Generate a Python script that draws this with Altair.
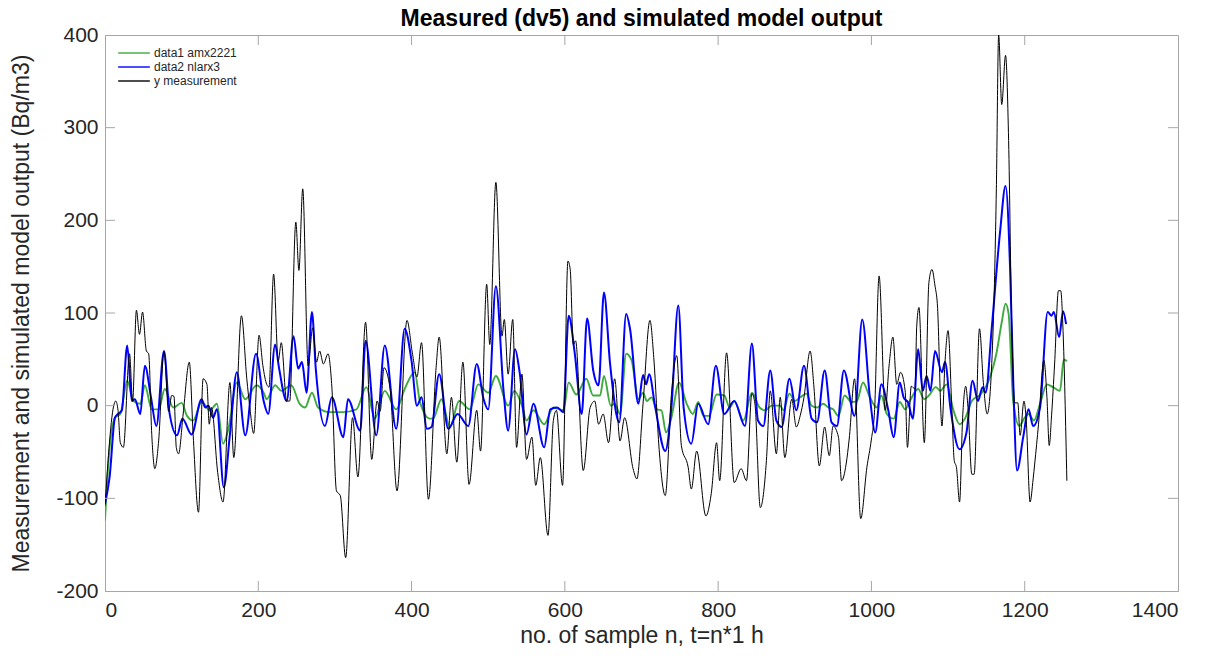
import altair as alt
import pandas as pd

alt.data_transformers.disable_max_rows()

# sample index and value pairs
meas_n = [0, 12, 14, 17, 20, 24, 32, 36, 41, 45, 49, 54, 57, 61, 65, 70, 77, 83, 87, 90,
          93, 96, 102, 110, 115, 122, 128, 133, 136, 139, 147, 154, 163, 168, 178, 185, 189,
          194, 201, 206, 211, 214, 220, 226, 230, 237, 241, 249, 253, 258, 265, 271, 276,
          280, 285, 291, 296, 302, 307, 314, 323, 330, 340, 348, 355, 359, 364, 372, 381,
          394, 401, 407, 413, 422, 432, 436, 446, 452, 459, 467, 475, 485, 490, 498, 502,
          510, 518, 521, 526, 532, 537, 544, 550, 557, 562, 568, 578, 585, 589, 597, 604,
          607, 611, 614, 624, 633, 639, 644, 650, 657, 665, 672, 678, 689, 694, 702, 711,
          716, 723, 731, 739, 746, 752, 761, 765, 772, 784, 791, 798, 802, 811, 821, 830,
          837, 844, 848, 855, 863, 868, 876, 881, 887, 896, 902, 907, 912, 920, 925, 932,
          939, 945, 950, 957, 961, 967, 971, 978, 986, 994, 1000, 1004, 1010, 1018, 1023,
          1028, 1033, 1038, 1044, 1047, 1052, 1057, 1059, 1062, 1069, 1075, 1079, 1083,
          1086, 1092, 1096, 1100, 1105, 1108, 1111, 1115, 1119, 1123, 1126, 1131, 1134,
          1141, 1146, 1151, 1159, 1163, 1166, 1170, 1175, 1179, 1183, 1187, 1191, 1194,
          1199, 1202, 1207, 1211, 1213, 1218, 1225, 1229, 1232, 1235, 1239, 1244, 1247,
          1250, 1255]
meas_y = [-108, 2, 5, -5, -40, -45, 56, 5, 103, 77, 101, 59, 56, -31, -68, -38, 58, -6, 11, 10,
          -45, -52, -9, 47, -31, -115, 29, 23, -20, -2, -72, -104, 25, -56, 97, 29, -2,
          -30, 76, 43, 23, 20, 142, 48, 68, 5, 5, 198, 146, 234, 43, 84, 47,
          59, 45, 56, 20, -92, -97, -164, -13, -77, 90, -58, 5, -6, 41, 18, -92,
          92, 57, 31, 68, -101, 41, 74, -52, 9, -61, 47, -85, -5, -49, 131, 66,
          241, 75, 93, 34, 93, -45, 34, -58, -34, -86, -56, -140, -16, -5, -86, 156,
          147, 66, 70, -70, -2, 5, -20, -9, -40, 29, -38, -13, -68, -79, 2, 92,
          52, -47, -97, 12, 54, -43, -67, -90, -49, -119, -95, -40, -81, 57, -83, -68,
          -81, 13, 2, -110, -59, 16, -52, 9, -56, 7, -23, -11, 9, 59, 20, -65,
          -23, -54, -22, -34, -81, -63, -36, 29, -122, -67, -36, -7, 140, -5, 43,
          74, 23, 36, 16, -45, 21, 18, 84, 106, -40, 133, 147, 129,
          110, -22, 47, 81, -5, -59, -67, -104, -13, 21, -2, -74, -74,
          83, 25, -9, 88, 234, 400, 325, 378, 286, 88, 3, 3, -32,
          5, -16, -104, -79, -63, -20, 49, 9, -43, -11, 45, 124, 124,
          81, -81]

nlarx_n = [0, 6, 13, 17, 22, 29, 35, 39, 46, 52, 60, 67, 77, 84, 94, 101, 113, 126, 131, 135,
           141, 146, 155, 163, 172, 183, 197, 207, 213, 222, 227, 237, 246, 252, 257, 263,
           270, 275, 287, 296, 311, 317, 333, 340, 354, 365, 380, 391, 400, 407, 413, 420,
           426, 436, 448, 460, 474, 485, 494, 500, 510, 520, 526, 535, 541, 550, 559, 573,
           581, 590, 598, 605, 613, 622, 629, 637, 644, 651, 659, 671, 680, 685, 696, 702,
           706, 710, 718, 731, 739, 748, 755, 765, 774, 787, 797, 808, 821, 835, 844, 852,
           859, 868, 876, 883, 893, 902, 912, 922, 929, 939, 948, 955, 964, 978, 988, 998,
           1005, 1013, 1022, 1029, 1037, 1042, 1048, 1054, 1061, 1067, 1072, 1077, 1083,
           1092, 1096, 1103, 1115, 1124, 1132, 1139, 1145, 1149, 1157, 1168, 1175, 1181,
           1185, 1190, 1198, 1205, 1211, 1220, 1230, 1235, 1238, 1245, 1250, 1254]
nlarx_y = [-106, -77, -13, -9, -5, 65, 5, 7, -9, 43, 9, -22, 59, -7, -32, -14, -31, 7, -2, 0,
           -13, -4, -88, -31, 36, -32, 56, 5, -9, 66, 41, 5, 75, 40, 47, 14,
           101, 40, -22, 9, -34, 7, -27, 70, -32, 65, -25, 83, 48, 0, 9, -25,
           -23, 34, -25, -9, -22, 45, 7, -4, 129, 16, -27, 61, 36, -31, 2, -45,
           -4, -2, -7, 97, 56, -9, 94, 38, 22, 122, 45, -18, 99, 83, 2, 33,
           23, 34, -2, -49, -2, 108, -2, -41, 2, -20, 43, -9, 5, -22, 67, -16,
           -22, 38, -16, -23, 29, -5, 43, -14, -18, 38, -18, -22, 38, -11, 93, 9,
           -29, 23, -5, -34, 25, 9, 3, -14, 61, 16, 32, 16, 59,
           36, 47, -2, -47, -29, 27, 5, 20, 14, 84, 189, 237, 146,
           27, -70, -34, -4, -22, -2, 101, 97, 101, 74, 102, 88]

amx_n = [0, 4, 13, 20, 29, 37, 46, 52, 61, 70, 78, 89, 100, 107, 115, 126, 137, 146, 154, 161,
         172, 183, 198, 207, 211, 222, 230, 243, 254, 261, 270, 278, 293, 311, 328, 341,
         352, 365, 380, 391, 404, 411, 424, 428, 439, 450, 462, 476, 487, 500, 510, 526,
         534, 544, 550, 559, 573, 585, 598, 605, 615, 628, 637, 646, 651, 660, 665, 672,
         680, 687, 696, 702, 707, 713, 720, 726, 732, 739, 749, 759, 767, 774, 781, 788,
         798, 808, 815, 821, 833, 844, 854, 861, 870, 881, 885, 893, 900, 907, 915, 922,
         929, 937, 944, 950, 957, 965, 974, 981, 989, 998, 1007, 1013, 1020, 1029, 1037,
         1044, 1050, 1061, 1069, 1075, 1084, 1090, 1098, 1107, 1115, 1122, 1131, 1142,
         1152, 1163, 1170, 1175, 1179, 1185, 1193, 1199, 1205, 1212, 1220, 1229, 1237,
         1246, 1251, 1255]
amx_y = [-124, -66, -13, -9, 27, 5, 2, 22, -4, -4, 18, -2, 3, -11, -16, 4, -5, 2, -41, -25,
         25, 7, 22, 14, 7, 22, 16, 22, 2, -2, 14, -2, -7, -7, -4, 20,
         -14, 16, -4, 18, 36, 4, -14, -14, 7, -23, 5, -4, 23, 14, 32, 0,
         16, 0, -16, -5, -20, -2, -5, 25, 12, 29, 11, 11, 32, 0, 2, -9,
         56, 49, 7, 14, 5, 9, -4, -5, -29, -13, 25, 2, -9, 4, -11, -11,
         12, 11, -2, 5, -16, 14, -2, -5, 0, 0, -5, 13, 5, 9, 13, 0,
         -2, 2, -2, -4, -11, 11, 4, 5, 25, 9, -2, 11, -9, -14, 4,
         -4, 5, 18, 7, 11, 20, 16, 23, -5, -20, -14, 5, 12,
         25, 56, 90, 110, 99, 5, -22, -14, -9, -16, 2, 23, 20,
         16, 50, 48]

series_names = ["data1 amx2221", "data2 nlarx3", "y measurement"]
series_colors = ["#3faa3f", "#0000ff", "#000000"]
series_widths = [1.9, 2.0, 1.0]

x_ticks = [0, 200, 400, 600, 800, 1000, 1200, 1400]
y_ticks = [-200, -100, 0, 100, 200, 300, 400]

W, H = 1073, 556
FRAME = "#a6a6a6"
X_TITLE = "no. of sample n, t=n*1 h"
Y_TITLE = "Measurement and simulated model output (Bq/m3)"

x_scale = alt.Scale(domain=[0, 1400], nice=False)
y_scale = alt.Scale(domain=[-200, 400], nice=False)
x_axis = alt.Axis(values=x_ticks, grid=False, ticks=False, labelExpr="datum.value + ''")
y_axis = alt.Axis(values=y_ticks, grid=False, ticks=False, labelExpr="datum.value + ''")

color = alt.Color(
    "series:N",
    scale=alt.Scale(domain=series_names, range=series_colors),
    legend=alt.Legend(
        title=None,
        orient="none",
        legendX=21,
        legendY=10,
        padding=0,
        symbolType="M-2.3,0H2.3",
        symbolSize=190,
        symbolStrokeWidth=1.4,
        labelFontSize=12,
        labelFont="Liberation Sans",
        labelColor="#262626",
        rowPadding=0,
        labelOffset=12,
    ),
)

layers = []
for name, ns, ys, sw in [(series_names[0], amx_n, amx_y, series_widths[0]),
                         (series_names[1], nlarx_n, nlarx_y, series_widths[1]),
                         (series_names[2], meas_n, meas_y, series_widths[2])]:
    d = pd.DataFrame({"n": ns, "value": ys, "series": name})
    layers.append(
        alt.Chart(d)
        .mark_line(interpolate="monotone", clip=True, strokeWidth=sw)
        .encode(
            x=alt.X("n:Q", title=X_TITLE, scale=x_scale, axis=x_axis),
            y=alt.Y("value:Q", title=Y_TITLE, scale=y_scale, axis=y_axis),
            color=color,
        )
    )

# inward ticks on all four sides, as in the original figure
xt = pd.DataFrame({"n": x_ticks[1:-1]})
yt = pd.DataFrame({"value": y_ticks[1:-1]})
tick_style = dict(color=FRAME, strokeWidth=1)
tx = alt.X("n:Q", title=X_TITLE, scale=x_scale, axis=x_axis)
ty = alt.Y("value:Q", title=Y_TITLE, scale=y_scale, axis=y_axis)
layers += [
    alt.Chart(xt).mark_rule(**tick_style).encode(x=tx, y=alt.value(H), y2=alt.value(H - 10)),
    alt.Chart(xt).mark_rule(**tick_style).encode(x=tx, y=alt.value(0), y2=alt.value(10)),
    alt.Chart(yt).mark_rule(**tick_style).encode(y=ty, x=alt.value(0), x2=alt.value(10)),
    alt.Chart(yt).mark_rule(**tick_style).encode(y=ty, x=alt.value(W), x2=alt.value(W - 10)),
]

chart = (
    alt.layer(*layers)
    .properties(
        width=W,
        height=H,
        autosize=alt.AutoSizeParams(type="none"),
        padding={"left": 97, "top": 27, "right": 24, "bottom": 59},
        title=alt.TitleParams(
            "Measured (dv5) and simulated model output",
            fontSize=23,
            fontWeight="bold",
            font="Liberation Sans",
            color="#000000",
            anchor="middle",
            offset=-7,
        ),
    )
    .configure_view(stroke=FRAME, strokeWidth=1)
    .configure_axis(
        domainColor=FRAME,
        labelFont="Liberation Sans",
        labelFontSize=21,
        labelColor="#262626",
        titleFont="Liberation Sans",
        titleFontSize=23,
        titleFontWeight="normal",
        titleColor="#262626",
    )
    .configure_axisX(labelPadding=8, titlePadding=4)
    .configure_axisY(labelPadding=7, titlePadding=22)
)

chart.save("out.html", embed_options={"renderer": "svg", "actions": False})
